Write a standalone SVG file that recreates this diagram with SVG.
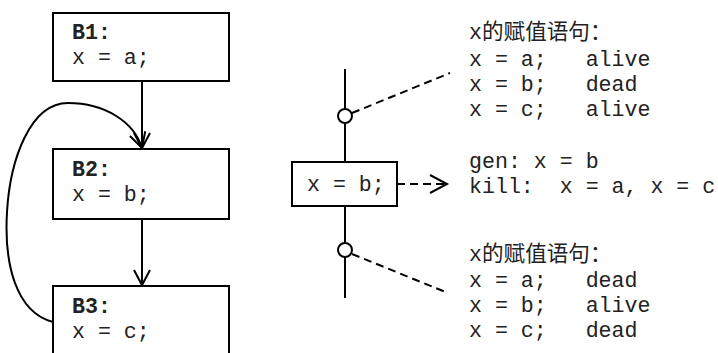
<svg xmlns="http://www.w3.org/2000/svg" width="718" height="353" viewBox="0 0 718 353" xml:space="preserve">
<defs>
<style>
.box{fill:#fff;stroke:#000;stroke-width:2}
.ln{fill:none;stroke:#000;stroke-width:2}
.dash{fill:none;stroke:#000;stroke-width:2;stroke-dasharray:8 5}
.t{font-family:"Liberation Mono","Noto Sans CJK SC",monospace;font-size:21.6px;fill:#222;white-space:pre}
.b{font-weight:bold}
</style>
<marker id="ah" markerUnits="userSpaceOnUse" markerWidth="20" markerHeight="20" viewBox="-16 -10 18 20" refX="0" refY="0" orient="auto">
<path d="M-15,-8 L0,0 L-15,8" fill="none" stroke="#000" stroke-width="2"/>
</marker>
</defs>
<rect width="718" height="353" fill="#fff"/>
<g id="connectors">
<line class="ln" x1="142" y1="82" x2="142" y2="148" marker-end="url(#ah)"/>
<line class="ln" x1="142" y1="219" x2="142" y2="285" marker-end="url(#ah)"/>
<path class="ln" d="M53,322 C15,312 4,262 7,212 C10,160 30,103 68,103 C105,103 134,122 142,148" marker-end="url(#ah)"/>
<line class="ln" x1="345" y1="69" x2="345" y2="298"/>
<line class="dash" x1="352" y1="113" x2="450" y2="73"/>
<line class="dash" x1="352" y1="254" x2="448" y2="293"/>
<line class="dash" x1="397" y1="184" x2="446" y2="184" stroke-dasharray="7 5"/>
<path d="M430,175 L447,184 L430,193" fill="none" stroke="#000" stroke-width="2"/>
</g>
<g id="B1">
<rect class="box" x="53" y="13" width="176" height="68"/>
<text class="t b" x="72" y="39">B1:</text>
<text class="t" x="72" y="64">x = a;</text>
</g>
<g id="B2">
<rect class="box" x="53" y="149" width="176" height="70"/>
<text class="t b" x="72" y="176">B2:</text>
<text class="t" x="72" y="201">x = b;</text>
</g>
<g id="B3">
<rect class="box" x="53" y="286" width="176" height="80"/>
<text class="t b" x="72" y="313">B3:</text>
<text class="t" x="72" y="338">x = c;</text>
</g>
<g id="stmt">
<rect class="box" x="292" y="162" width="105" height="44"/>
<text class="t" x="307" y="191">x = b;</text>
</g>
<g id="p1">
<circle cx="345" cy="116" r="7" fill="#fff" stroke="#000" stroke-width="2"/>
</g>
<g id="p2">
<circle cx="345" cy="250" r="7" fill="#fff" stroke="#000" stroke-width="2"/>
</g>
<g id="info-top">
<text class="t" x="469" y="39">x的赋值语句：</text>
<text class="t" x="469" y="66">x = a;   alive</text>
<text class="t" x="469" y="91">x = b;   dead</text>
<text class="t" x="469" y="116">x = c;   alive</text>
</g>
<g id="info-mid">
<text class="t" x="469" y="168">gen: x = b</text>
<text class="t" x="469" y="193">kill:  x = a, x = c</text>
</g>
<g id="info-bot">
<text class="t" x="469" y="261">x的赋值语句：</text>
<text class="t" x="469" y="287">x = a;   dead</text>
<text class="t" x="469" y="312">x = b;   alive</text>
<text class="t" x="469" y="337">x = c;   dead</text>
</g>
</svg>
